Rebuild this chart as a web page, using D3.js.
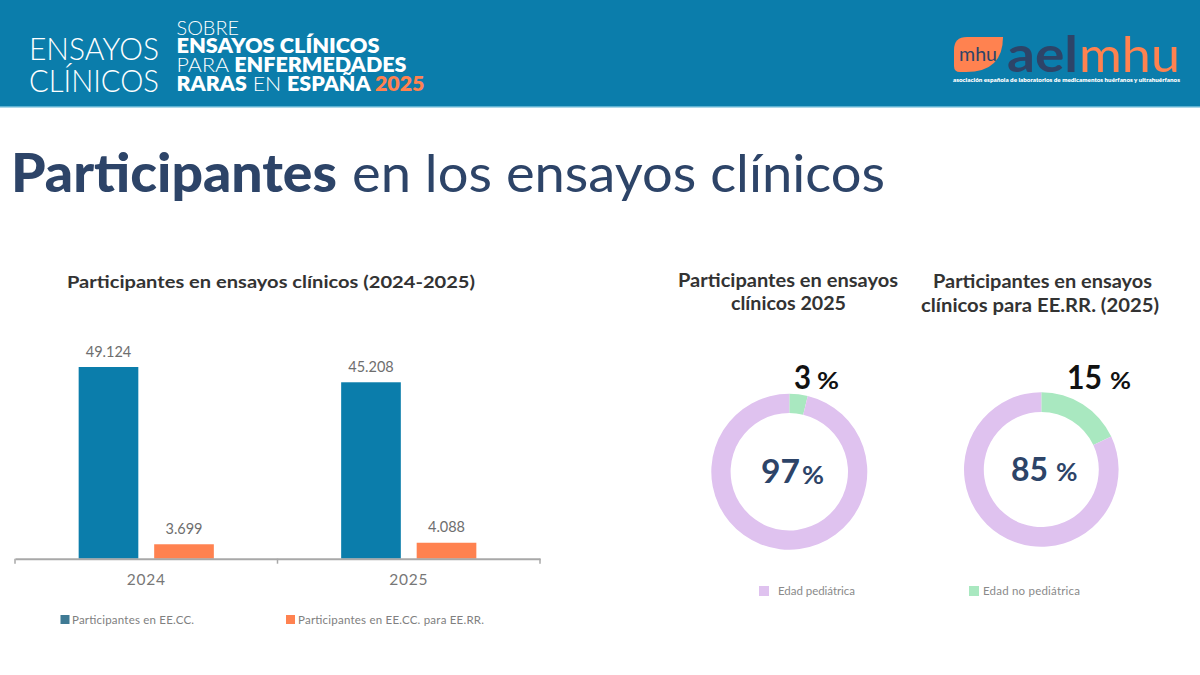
<!DOCTYPE html>
<html lang="es"><head><meta charset="utf-8">
<script src="https://cdn.jsdelivr.net/npm/d3@7/dist/d3.min.js"></script>
<style>html,body{margin:0;padding:0;background:#fff}svg{display:block}text{font-family:Lato,"Open Sans",sans-serif}</style>
</head><body><svg id="c" width="1200" height="675"></svg>
<script>
// ---- data ----
const years = ["2024", "2025"];
const seriesNames = ["Participantes en EE.CC.", "Participantes en EE.CC. para EE.RR."];
const participantsAll = [49124, 45208];
const participantsRare = [3699, 4088];
const barColors = ["#0b7dab", "#ff8250"];
const legendColors = ["#3f7a94", "#ff8250"];
const donutTitles = [["Participantes en ensayos", "clínicos 2025"], ["Participantes en ensayos", "clínicos para EE.RR. (2025)"]];
const donutLabelsPed = [97, 85];
const donutLabelsNoPed = [3, 15];
// slice sizes as drawn in the picture (they are a little wider than the printed labels)
const donutDrawnNoPed = [3.8, 18];
const donutLegend = ["Edad pediátrica", "Edad no pediátrica"];
const donutColors = ["#dfc2ef", "#a9e8c0"];

const svg = d3.select("#c");
const navy = "#2d4468";

// ---- header ----
svg.append("rect").attr("width",1200).attr("height",106.5).attr("fill","#0b7dab");
svg.append("rect").attr("y",106).attr("width",1200).attr("height",1.5).attr("fill","#5fb2d2");
function runs(x,y,size,parts,width){
  const t = svg.append("text").attr("x",x).attr("y",y).attr("font-size",size).attr("fill","#fff");
  parts.forEach(p=>t.append("tspan").text(p[0]).attr("font-weight",p[1]?800:300).attr("fill",p[2]||"#fff"));
  if(width) t.attr("textLength",width).attr("lengthAdjust","spacingAndGlyphs");
  return t;
}
runs(29,60,32,[["ENSAYOS",0]],130);
runs(29,92,32,[["CLÍNICOS",0]],130);
runs(176.5,35,20,[["SOBRE",0]],62.5);
runs(176.5,53,20,[["ENSAYOS CLÍNICOS",1]],203);
runs(176.5,71.5,20,[["PARA ",0],["ENFERMEDADES",1]],230);
runs(176.5,90.5,20,[["RARAS",1],[" EN ",0],["ESPAÑA",1],[" 2025",1,"#ff8250"]],248);

// logo
svg.append("path").attr("fill","#ff8250")
  .attr("d","M954 50 Q954 37 967 37 L1003 37 Q1003 72 966 72 L960 72 Q954 72 954 66 Z");
svg.append("text").attr("x",959).attr("y",61).attr("font-size",20)
  .attr("fill",navy).attr("font-weight",400).attr("textLength",38).attr("lengthAdjust","spacingAndGlyphs").text("mhu");
svg.append("text").attr("x",1007).attr("y",71.5).attr("font-size",49).attr("font-weight",700).attr("fill",navy)
  .attr("textLength",71).attr("lengthAdjust","spacingAndGlyphs").text("ael");
svg.append("text").attr("x",1079).attr("y",71.5).attr("font-size",49).attr("font-weight",400).attr("fill","#ff8250")
  .attr("textLength",101).attr("lengthAdjust","spacingAndGlyphs").text("mhu");
svg.append("text").attr("x",953).attr("y",82).attr("font-size",6.2).attr("font-weight",800).attr("fill","#fff")
  .attr("textLength",227).attr("lengthAdjust","spacingAndGlyphs")
  .text("asociación española de laboratorios de medicamentos huérfanos y ultrahuérfanos");

// ---- main title ----
svg.append("text").attr("x",11).attr("y",192).attr("font-size",53).attr("fill",navy).attr("font-weight",900)
  .attr("textLength",326).attr("lengthAdjust","spacingAndGlyphs").text("Participantes");
svg.append("text").attr("x",352).attr("y",192).attr("font-size",53).attr("fill",navy).attr("font-weight",400)
  .attr("textLength",533).attr("lengthAdjust","spacingAndGlyphs").text("en los ensayos clínicos");

// ---- bar chart ----
svg.append("text").attr("x",67).attr("y",288).attr("font-size",17.5).attr("font-weight",700).attr("fill","#333")
  .attr("textLength",408).attr("lengthAdjust","spacingAndGlyphs").text("Participantes en ensayos clínicos (2024-2025)");
const baseY = 558.7;
const x0 = d3.scaleBand().domain(years).range([15,540]);
const x1 = d3.scaleBand().domain(seriesNames).range([0,x0.bandwidth()]).paddingInner(0.21).paddingOuter(0.843);
const y = d3.scaleLinear().domain([0,49124]).range([baseY,367]);
const fmt = d3.format(",");
const es = v => fmt(v).replace(/,/g,".");
[participantsAll,participantsRare].forEach((vals,i)=>{
  const g = svg.append("g");
  g.selectAll("rect").data(vals).join("rect")
    .attr("x",(d,j)=>x0(years[j])+x1(seriesNames[i]))
    .attr("y",d=>y(d)).attr("width",x1.bandwidth()).attr("height",d=>baseY-y(d))
    .attr("fill",barColors[i]);
  g.selectAll("text").data(vals).join("text")
    .attr("x",(d,j)=>x0(years[j])+x1(seriesNames[i])+x1.bandwidth()/2)
    .attr("y",d=>y(d)-10.5).attr("text-anchor","middle").attr("font-size",14.5).attr("fill","#6e6e6e")
    .text(es);
});
const axis = d3.axisBottom(x0).tickSizeOuter(0).tickSize(0).tickPadding(15);
const ax = svg.append("g").attr("transform",`translate(0,${baseY})`).call(axis);
ax.select(".domain").attr("stroke","#a8a8a8").attr("stroke-width",2);
ax.selectAll("text").attr("font-size",15.5).attr("fill","#777").attr("font-family","Lato,sans-serif").attr("letter-spacing",0.8);
svg.selectAll("line.edge").data([x0.range()[0],x0(years[1]),x0.range()[1]]).join("line").attr("class","edge")
  .attr("x1",d=>d).attr("x2",d=>d).attr("y1",baseY).attr("y2",baseY+5).attr("stroke","#a8a8a8").attr("stroke-width",1.5);
const legX=[60.5,286], legTX=[72,298], legW=[122,186];
seriesNames.forEach((s,i)=>{
  svg.append("rect").attr("x",legX[i]).attr("y",615).attr("width",9).attr("height",9).attr("fill",legendColors[i]);
  svg.append("text").attr("x",legTX[i]).attr("y",624).attr("font-size",11.5).attr("fill","#808080")
    .attr("textLength",legW[i]).text(s);
});

// ---- donuts ----
const cx=[789.3,1041.3], cy=[471.7,469.5], rO=[78,77.3], rI=[58.7,57.5];
const titleX=[[678,731],[933,921]], titleW=[[220,115],[219,238]], titleY=[[287,309.5],[288,311.5]];
const centerNum=[[761,483,39],[1011,481,37]], centerPct=[[802,484,22],[1056,481,21.5]];
const topNum=[[794,389,17],[1067,389,35]], topPct=[[817,389,22],[1110,389,21]];
const pie = d3.pie().sort(null).value(d=>d);
donutLabelsPed.forEach((p,i)=>{
  donutTitles[i].forEach((l,k)=>svg.append("text").attr("x",titleX[i][k]).attr("y",titleY[i][k])
    .attr("font-size",18).attr("font-weight",700).attr("fill","#333")
    .attr("textLength",titleW[i][k]).attr("lengthAdjust","spacingAndGlyphs").text(l));
  const arc = d3.arc().innerRadius(rI[i]).outerRadius(rO[i]);
  const drawn=[donutDrawnNoPed[i],100-donutDrawnNoPed[i]];
  svg.append("g").attr("transform",`translate(${cx[i]},${cy[i]})`).selectAll("path").data(pie(drawn)).join("path")
    .attr("d",arc).attr("fill",(d,j)=>donutColors[j===0?1:0]);
  const lab=(a,s,c,t)=>svg.append("text").attr("x",a[0]).attr("y",a[1]).attr("font-size",s).attr("font-weight",700).attr("fill",c)
    .attr("textLength",a[2]).attr("lengthAdjust","spacingAndGlyphs").text(t);
  lab(centerNum[i],32,navy,p);
  lab(centerPct[i],24,navy,"%");
  lab(topNum[i],32,"#111",donutLabelsNoPed[i]);
  lab(topPct[i],23,"#111","%");
});
const dlX=[759,969], dlTX=[778,983], dlW=[77,97];
donutLegend.forEach((s,i)=>{
  svg.append("rect").attr("x",dlX[i]).attr("y",586).attr("width",10).attr("height",10).attr("fill",donutColors[i]);
  svg.append("text").attr("x",dlTX[i]).attr("y",595).attr("font-size",11.5).attr("fill","#8a8a8a").attr("textLength",dlW[i]).text(s);
});
</script></body></html>
